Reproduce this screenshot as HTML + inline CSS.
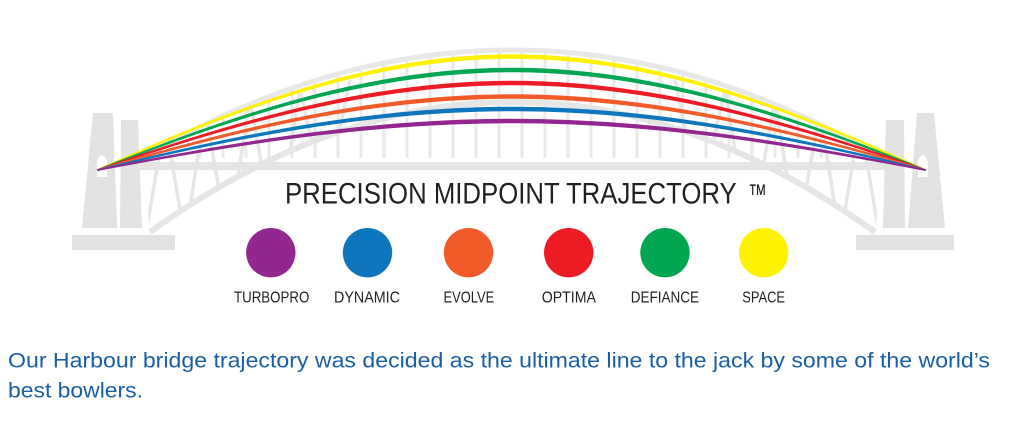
<!DOCTYPE html>
<html>
<head>
<meta charset="utf-8">
<style>
  html, body { margin: 0; padding: 0; background: #ffffff; }
  body { width: 1024px; height: 424px; overflow: hidden; position: relative; }
  svg { position: absolute; left: 0; top: 0; display: block; }
</style>
</head>
<body>
<svg width="1024" height="424" viewBox="0 0 1024 424" xmlns="http://www.w3.org/2000/svg">
  <defs>
    <clipPath id="underUpper">
      <path d="M142,158 Q512,-58 883,158 Z"/>
    </clipPath>
    <clipPath id="archBand">
      <path d="M142,158 Q512,-58 883,158 L875,232 Q512.5,-28 150,232 Z"/>
    </clipPath>
  </defs>

  <rect x="0" y="0" width="1024" height="424" fill="#ffffff"/>

  <!-- ===== Bridge silhouette (light gray) ===== -->
  <g fill="none" stroke="#e9e9e9" stroke-width="3">
    <g clip-path="url(#underUpper)">
      <path d="M200,30V165 M223,30V165 M246,30V165 M269,30V165 M292,30V165 M315,30V165 M338,30V165 M361,30V165 M384,30V165 M407,30V165 M430,30V165 M453,30V165 M476,30V165 M499,30V165 M522,30V165 M545,30V165 M568,30V165 M591,30V165 M614,30V165 M637,30V165 M660,30V165 M683,30V165 M706,30V165 M729,30V165 M752,30V165 M775,30V165 M798,30V165 M821,30V165"/>
    </g>
    <g clip-path="url(#archBand)" stroke="#e6e6e6" stroke-width="3.5">
      <polyline points="145,240 165,120 185,240 205,110 228,240 250,100 275,240 300,90 325,200 350,80"/>
      <polyline points="880,240 860,120 840,240 820,110 797,240 775,100 750,240 725,90 700,200 675,80"/>
    </g>
  </g>

  <path d="M142,158 Q512,-58 883,158" fill="none" stroke="#e8e8e8" stroke-width="5"/>
  <path d="M150,232 Q512.5,-28 875,232" fill="none" stroke="#e6e6e6" stroke-width="6"/>

  <rect x="140" y="162" width="745" height="8" fill="#e5e5e5"/>

  <!-- left pylon -->
  <g fill="#e3e3e3">
    <polygon points="82,228 93,113 113,113 117,228"/>
    <polygon points="120,228 121,120 138,120 142,228"/>
    <rect x="72" y="235" width="103" height="15"/>
  </g>
  <path d="M97,177 L97,161 Q102,149 107,161 L107,177 Z" fill="#ffffff"/>

  <!-- right pylon -->
  <g fill="#e3e3e3">
    <polygon points="908,228 917,113 934,113 945,228"/>
    <polygon points="883,228 886,120 904,120 905,228"/>
    <rect x="856" y="235" width="98" height="15"/>
  </g>
  <path d="M918,177 L918,161 Q923,149 928,161 L928,177 Z" fill="#ffffff"/>

  <!-- ===== Colored trajectories ===== -->
  <g stroke-width="1.8" stroke-linejoin="round">
    <path d="M98,170 C429,16.9 596,16.9 925,170 C596,20.5 429,20.5 98,170 Z" fill="#fff200" stroke="#fff200"/>
    <path d="M98,170 C429,34.9 596,34.9 925,170 C596,38.5 429,38.5 98,170 Z" fill="#00a651" stroke="#00a651"/>
    <path d="M98,170 C429,52.2 596,52.2 925,170 C596,55.8 429,55.8 98,170 Z" fill="#ed1c24" stroke="#ed1c24"/>
    <path d="M98,170 C429,70.2 596,70.2 925,170 C596,73.8 429,73.8 98,170 Z" fill="#f15a29" stroke="#f15a29"/>
    <path d="M98,170 C429,86.9 596,86.9 925,170 C596,90.5 429,90.5 98,170 Z" fill="#0e76bc" stroke="#0e76bc"/>
    <path d="M98,170 C429,102.9 596,102.9 925,170 C596,106.5 429,106.5 98,170 Z" fill="#92278f" stroke="#92278f"/>
  </g>

  <!-- ===== Title ===== -->
  <text x="285" y="203.3" font-family="Liberation Sans, Arial, sans-serif" font-size="30" fill="#231f20" textLength="451.7" lengthAdjust="spacingAndGlyphs">PRECISION MIDPOINT TRAJECTORY</text>
  <text x="748" y="203.3" font-family="Liberation Sans, Arial, sans-serif" font-size="28" fill="#231f20" textLength="19" lengthAdjust="spacingAndGlyphs">™</text>

  <!-- ===== Circles ===== -->
  <circle cx="270.8" cy="252.7" r="24.7" fill="#92278f"/>
  <circle cx="367.5" cy="252.7" r="24.7" fill="#0e76bc"/>
  <circle cx="468.5" cy="252.7" r="24.7" fill="#f15a29"/>
  <circle cx="568.7" cy="252.7" r="24.7" fill="#ed1c24"/>
  <circle cx="665" cy="252.7" r="24.7" fill="#00a651"/>
  <circle cx="763.7" cy="252.7" r="24.7" fill="#fff200"/>

  <!-- ===== Labels ===== -->
  <g font-family="Liberation Sans, Arial, sans-serif" font-size="16" fill="#231f20">
    <text x="234" y="302.7" textLength="75.3" lengthAdjust="spacingAndGlyphs">TURBOPRO</text>
    <text x="334" y="302.7" textLength="66" lengthAdjust="spacingAndGlyphs">DYNAMIC</text>
    <text x="443.5" y="302.7" textLength="50.7" lengthAdjust="spacingAndGlyphs">EVOLVE</text>
    <text x="541.7" y="302.7" textLength="54.3" lengthAdjust="spacingAndGlyphs">OPTIMA</text>
    <text x="630.7" y="302.7" textLength="68.3" lengthAdjust="spacingAndGlyphs">DEFIANCE</text>
    <text x="742.3" y="302.7" textLength="42.7" lengthAdjust="spacingAndGlyphs">SPACE</text>
  </g>

  <!-- ===== Body text ===== -->
  <g font-family="Liberation Sans, Arial, sans-serif" font-size="21" fill="#1a5fa6">
    <text x="8" y="367.3" textLength="982" lengthAdjust="spacingAndGlyphs">Our Harbour bridge trajectory was decided as the ultimate line to the jack by some of the world’s</text>
    <text x="8" y="397.3" textLength="135" lengthAdjust="spacingAndGlyphs">best bowlers.</text>
  </g>
</svg>
</body>
</html>
